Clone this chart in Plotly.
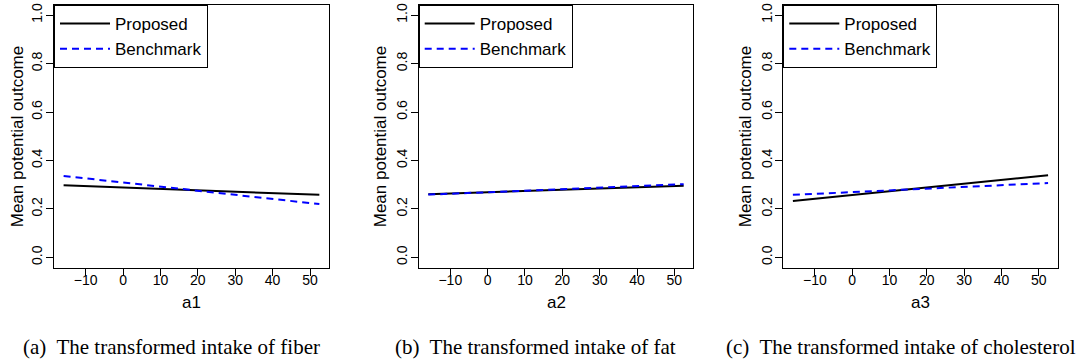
import plotly.graph_objects as go

# ---- data ----
x_grid = [-15.9, 52.5]

proposed_a1 = [0.298, 0.258]
benchmark_a1 = [0.336, 0.220]

proposed_a2 = [0.261, 0.296]
benchmark_a2 = [0.259, 0.302]

proposed_a3 = [0.233, 0.339]
benchmark_a3 = [0.258, 0.307]

x_labels = ["a1", "a2", "a3"]
captions = [
    "(a)  The transformed intake of fiber",
    "(b)  The transformed intake of fat",
    "(c)  The transformed intake of cholesterol",
]
y_title = "Mean potential outcome"
x_ticks = [-10, 0, 10, 20, 30, 40, 50]
y_ticks = [0.0, 0.2, 0.4, 0.6, 0.8, 1.0]

W, H = 1083, 363
panel_px = [(54, 329), (418.7, 693.3), (783.3, 1057.7)]
ytitle_px = [17, 380, 745]
caption_px = [171, 535, 901]
top_px, bot_px = 3, 267

fig = go.Figure()
series = [(proposed_a1, benchmark_a1), (proposed_a2, benchmark_a2), (proposed_a3, benchmark_a3)]

for i, (prop, bench) in enumerate(series):
    n = i + 1
    xa = "x" if n == 1 else f"x{n}"
    ya = "y" if n == 1 else f"y{n}"
    lg = "legend" if n == 1 else f"legend{n}"
    fig.add_trace(go.Scatter(x=x_grid, y=prop, mode="lines", name="Proposed",
                             line=dict(color="black", width=2),
                             xaxis=xa, yaxis=ya, legend=lg))
    fig.add_trace(go.Scatter(x=x_grid, y=bench, mode="lines", name="Benchmark",
                             line=dict(color="#0000FF", width=2, dash="7px,5px"),
                             xaxis=xa, yaxis=ya, legend=lg))

layout = dict(
    width=W, height=H,
    margin=dict(l=0, r=0, t=0, b=0),
    paper_bgcolor="white", plot_bgcolor="white",
    font=dict(family="Liberation Sans, Arial, sans-serif", color="black"),
    showlegend=True,
)

annotations = []
for i, (l, r) in enumerate(panel_px):
    n = i + 1
    xk = "xaxis" if n == 1 else f"xaxis{n}"
    yk = "yaxis" if n == 1 else f"yaxis{n}"
    lk = "legend" if n == 1 else f"legend{n}"
    layout[xk] = dict(
        domain=[l / W, r / W], range=[-18.47, 55.08],
        tickvals=x_ticks, ticks="outside", ticklen=7, tickwidth=1, tickcolor="black",
        showline=True, linecolor="black", linewidth=1, mirror=True,
        showgrid=False, zeroline=False, tickfont=dict(size=14),
        ticklabelstandoff=-7,
        anchor="y" if n == 1 else f"y{n}",
    )
    layout[yk] = dict(
        domain=[1 - bot_px / H, 1 - top_px / H], range=[-0.042, 1.042],
        tickvals=y_ticks, tickformat=".1f", ticks="outside", ticklen=7, tickwidth=1,
        tickcolor="black", tickangle=-90,
        showline=True, linecolor="black", linewidth=1, mirror=True,
        showgrid=False, zeroline=False, tickfont=dict(size=14),
        ticklabelstandoff=-2,
        anchor="x" if n == 1 else f"x{n}",
    )
    layout[lk] = dict(
        x=l / W, y=1 - top_px / H, xanchor="left", yanchor="top",
        xref="paper", yref="paper",
        bordercolor="black", borderwidth=1, bgcolor="white",
        font=dict(size=17), itemwidth=50, tracegroupgap=0,
    )
    annotations.append(dict(text=x_labels[i], x=(l + r) / 2 / W, y=1 - 302 / H,
                            xref="paper", yref="paper", showarrow=False,
                            xanchor="center", yanchor="middle", font=dict(size=17)))
    annotations.append(dict(text=y_title, x=ytitle_px[i] / W, y=1 - 136 / H,
                            xref="paper", yref="paper", showarrow=False, textangle=-90,
                            xanchor="center", yanchor="middle", font=dict(size=17)))
    annotations.append(dict(text=captions[i].replace("  ", "\u00a0 "), x=caption_px[i] / W,
                            y=1 - 347 / H, xref="paper", yref="paper", showarrow=False,
                            xanchor="center", yanchor="middle",
                            font=dict(size=21, family="Liberation Serif, Times New Roman, serif")))

layout["annotations"] = annotations
fig.update_layout(**layout)
fig.write_html("out.html", config={"displayModeBar": False},
               post_script="document.body.style.margin='0';document.body.style.overflow='hidden';")
